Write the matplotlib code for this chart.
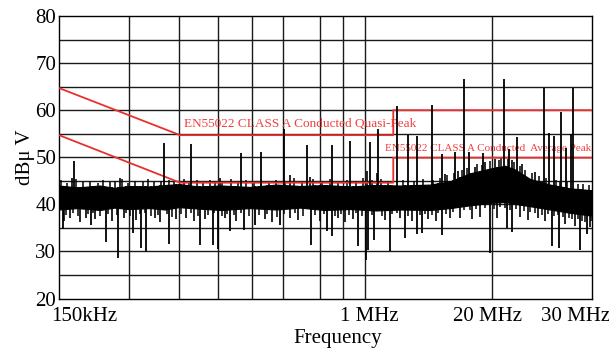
import matplotlib.pyplot as plt
import numpy as np

plt.rcParams['font.family'] = ['Liberation Serif', 'DejaVu Serif']

# noise floor envelope (MHz, dBuV)
env_f = [0.15, 0.18, 0.2255, 0.26, 0.30, 0.371, 0.43, 0.4946, 0.6, 0.75, 1.002, 1.3,
         1.647, 2.1, 2.708, 3.5, 4.452, 6.0, 7.318, 8.93, 10.89, 12.64, 13.96, 16.21,
         19.77, 24.13, 30.0]
env_hi = [44.0, 43.6, 44.0, 43.5, 43.9, 43.8, 44.1, 44.3, 43.8, 44.0, 43.7, 44.2,
          43.9, 44.1, 43.8, 44.1, 44.0, 44.2, 44.9, 46.6, 47.6, 48.2, 47.4, 45.4,
          44.2, 43.4, 43.0]
env_lo = [38.9, 39.2, 38.8, 39.3, 39.0, 39.2, 38.9, 39.4, 39.1, 38.8, 39.2, 38.9,
          39.3, 38.8, 39.0, 38.7, 38.9, 38.8, 39.2, 39.8, 40.3, 40.5, 40.1, 39.6,
          38.9, 38.2, 37.6]

# harmonic peaks
spike_f = [0.174, 0.424, 0.559, 0.913, 1.117, 1.401, 1.761, 2.258, 2.708, 3.313,
           3.566, 4.308, 4.834, 5.287, 6.117, 6.759, 7.690, 8.387, 8.867, 10.16,
           12.52, 13.15, 14.29, 18.69, 19.64, 20.57, 22.06, 23.19, 24.30, 24.86]
spike_v = [49.3, 53.0, 52.8, 51.0, 51.2, 56.1, 52.5, 52.6, 53.5, 53.3,
           56.0, 60.9, 54.8, 54.6, 61.1, 50.7, 51.1, 66.7, 51.1, 50.8,
           66.7, 51.8, 54.2, 64.8, 55.1, 54.6, 59.7, 51.9, 54.9, 64.8]

# small peaks just above the floor
bump_f = [0.171, 0.275, 0.744, 1.491, 1.82, 3.197, 3.53, 6.96, 7.92, 9.38,
          10.37, 11.45, 13.56, 14.97, 17.04]
bump_v = [45.7, 45.5, 45.6, 46.2, 45.8, 47.0, 46.7, 46.5, 47.0, 48.0,
          49.0, 49.6, 49.5, 48.5, 46.8]

# ragged top of the floor
crest_f = [0.153, 0.162, 0.177, 0.190, 0.205, 0.221, 0.233, 0.248, 0.262, 0.281,
           0.297, 0.318, 0.345, 0.362, 0.384, 0.415, 0.447, 0.470, 0.520, 0.545,
           0.590, 0.630, 0.670, 0.710, 0.760, 0.830, 0.890, 0.960, 1.040, 1.120,
           1.210, 1.300, 1.420, 1.550, 1.680, 1.870, 2.050, 2.220, 2.410, 2.620,
           2.860, 3.080, 3.370, 3.700, 3.950, 4.600, 5.100, 5.600, 6.200, 6.600,
           7.100, 7.600, 8.200, 8.700, 9.600, 10.10, 10.90, 11.90, 12.20, 13.00,
           13.80, 14.60, 15.40, 16.50, 17.80, 19.00, 20.90, 21.80, 23.50, 26.20,
           27.50, 29.00]
crest_v = [45.1, 44.6, 45.3, 44.8, 45.0, 44.5, 45.2, 44.7, 44.9, 45.3,
           44.6, 45.0, 44.8, 45.4, 44.7, 45.0, 45.2, 44.8, 45.3, 44.9,
           45.1, 44.7, 45.2, 45.0, 44.6, 45.3, 44.9, 45.1, 44.7, 45.4,
           44.8, 45.2, 45.0, 45.5, 44.9, 45.3, 45.0, 45.4, 44.8, 45.2,
           45.0, 45.6, 45.1, 45.3, 44.9, 45.2, 45.0, 45.4, 45.1, 45.6,
           46.2, 46.6, 47.4, 47.8, 48.6, 48.4, 49.2, 49.5, 49.8, 49.6,
           49.0, 48.2, 47.3, 46.6, 46.0, 45.6, 45.2, 45.0, 44.8, 44.4,
           44.3, 44.2]

# deep drop-outs
dip_f = [0.156, 0.2055, 0.2394, 0.2705, 0.3121, 0.339, 0.3563, 0.449, 0.6095, 0.691,
         0.727, 0.821, 0.947, 1.053, 1.350, 1.838, 2.154, 2.258, 2.940, 3.165,
         3.229, 3.447, 4.030, 4.678, 5.256, 5.523, 6.740, 10.89, 12.86, 13.51,
         20.23, 21.63, 26.65, 28.48]
dip_v = [34.7, 35.7, 32.0, 28.6, 33.9, 30.7, 29.9, 31.6, 31.4, 31.4,
         30.6, 34.4, 34.5, 35.7, 35.7, 31.4, 34.4, 33.2, 31.1, 28.2,
         30.4, 32.5, 30.0, 32.8, 33.6, 34.0, 33.5, 29.7, 35.0, 34.2,
         31.1, 30.7, 30.4, 33.6]

# teeth under the floor
tooth_f = [0.158, 0.167, 0.185, 0.196, 0.215, 0.254, 0.286, 0.323, 0.390, 0.410,
           0.480, 0.530, 0.574, 0.640, 0.781, 0.872, 1.163, 1.247, 1.491, 1.614,
           2.010, 2.403, 2.577, 2.790, 3.834, 4.452, 5.016, 5.880, 6.368, 7.318,
           8.082, 9.107, 9.861, 11.68, 14.67, 15.89, 17.55, 18.81, 22.95, 25.35, 29.43]
tooth_v = [36.5, 37.0, 36.2, 37.2, 36.8, 36.4, 37.1, 36.6, 37.0, 36.3,
           36.9, 37.2, 36.5, 36.8, 37.0, 36.4, 36.9, 36.2, 37.1, 36.7,
           36.5, 37.0, 36.3, 36.8, 36.6, 37.1, 36.4, 36.9, 36.5, 37.0,
           37.2, 36.8, 37.4, 37.0, 37.3, 36.6, 37.0, 36.4, 35.8, 35.5, 35.2]
notch_f = [0.161, 0.172, 0.181, 0.200, 0.210, 0.226, 0.243, 0.266, 0.292, 0.305,
           0.334, 0.352, 0.375, 0.400, 0.440, 0.460, 0.505, 0.555, 0.600, 0.660,
           0.700, 0.760, 0.800, 0.850, 0.920, 0.990, 1.090, 1.190, 1.310, 1.400,
           1.560, 1.700, 1.920, 2.100, 2.320, 2.480, 2.680, 2.880, 3.050, 3.380,
           3.720, 4.100, 4.300, 4.800, 5.400, 5.700, 6.100, 6.500, 7.000, 7.500,
           8.400, 8.900, 9.500, 10.40, 11.30, 12.00, 12.60, 13.30, 14.10, 15.20,
           16.20, 17.00, 18.20, 19.30, 20.60, 21.30, 22.40, 23.80, 24.60, 26.00,
           27.20, 28.00, 29.70]
notch_v = [37.8, 38.1, 37.5, 37.9, 38.2, 37.6, 38.0, 37.7, 38.1, 37.5,
           37.9, 38.2, 37.6, 37.8, 38.0, 37.4, 37.9, 38.1, 37.6, 37.8,
           38.2, 37.5, 37.9, 37.7, 38.1, 37.6, 37.8, 38.0, 37.4, 37.9,
           38.2, 37.6, 37.8, 38.0, 37.5, 37.9, 37.7, 38.1, 37.6, 37.8,
           37.5, 37.9, 38.1, 37.6, 37.8, 38.0, 37.7, 38.2, 38.0, 38.4,
           38.7, 38.9, 39.1, 39.3, 39.0, 39.4, 39.2, 38.9, 39.1, 38.6,
           38.4, 38.1, 37.8, 37.9, 37.5, 37.7, 37.3, 37.0, 36.8, 36.9,
           36.5, 36.2, 36.4]

# EN55022 limit curves
qp_f = [0.15, 0.5, 4.16, 4.16, 30.0]
qp_v = [64.7, 54.7, 54.7, 60.0, 60.0]
av_f = [0.15, 0.5, 4.16, 4.16, 30.0]
av_v = [54.7, 44.6, 44.6, 49.9, 49.9]

grid_f = [0.30, 0.495, 0.729, 1.022, 1.391, 2.010, 2.526, 3.144, 11.11]
xtick_f = [0.193, 3.27, 10.62, 25.5]
xtick_lab = ['150kHz', '1 MHz', '20 MHz', '30 MHz']


def floor_at(f, edge):
    return np.interp(np.log10(f), np.log10(env_f), edge)


fig = plt.figure(figsize=(6.09, 3.48), dpi=100)
ax = fig.add_axes([0.0969, 0.1422, 0.8752, 0.8118])
ax.set_xscale('log')
ax.set_xlim(0.15, 30.0)
ax.set_ylim(20, 80)

# grid
for f in grid_f:
    ax.axvline(f, color='#1a1a1a', lw=1.0, zorder=1)
for v in np.arange(25, 80, 5):
    ax.axhline(v, color='#1a1a1a', lw=1.0, zorder=1)

# measured trace
ax.fill_between(env_f, env_lo, env_hi, color='black', lw=0.8, zorder=2)
ax.vlines(crest_f, floor_at(crest_f, env_lo), crest_v, color='black', lw=1.1, zorder=2)
ax.vlines(bump_f, floor_at(bump_f, env_lo), bump_v, color='black', lw=1.2, zorder=2)
ax.vlines(notch_f, notch_v, floor_at(notch_f, env_hi), color='black', lw=1.1, zorder=2)
ax.vlines(tooth_f, tooth_v, floor_at(tooth_f, env_hi), color='black', lw=1.2, zorder=2)
ax.vlines(dip_f, dip_v, floor_at(dip_f, env_hi), color='black', lw=1.3, zorder=2)
ax.vlines(spike_f, floor_at(spike_f, env_lo), spike_v, color='black', lw=1.3, zorder=4)

# limits
ax.plot(qp_f, qp_v, color='#e8302e', lw=1.3, zorder=3)
ax.plot(av_f, av_v, color='#e8302e', lw=1.3, zorder=3)
ax.text(0.52, 57.1, 'EN55022 CLASS A Conducted Quasi-Peak', color='#f04040',
        fontsize=9.5, va='center', ha='left', zorder=3)
ax.text(3.85, 51.9, 'EN55022 CLASS A Conducted  Average Peak', color='#f04040',
        fontsize=8.0, va='center', ha='left', zorder=3)

ax.set_xticks(xtick_f)
ax.set_xticklabels(xtick_lab)
ax.xaxis.set_minor_locator(plt.NullLocator())
ax.set_yticks(np.arange(20, 81, 10))
ax.tick_params(length=0, labelsize=15, pad=2)
ax.tick_params(axis='x', pad=6)
for s in ax.spines.values():
    s.set_linewidth(1.0)

ax.set_ylabel('dB\u03bc V', fontsize=15, labelpad=0)
fig.text(338 / 609, 1 - 338 / 348, 'Frequency', fontsize=15, ha='center', va='center')

fig.savefig('out.png', dpi=100)
